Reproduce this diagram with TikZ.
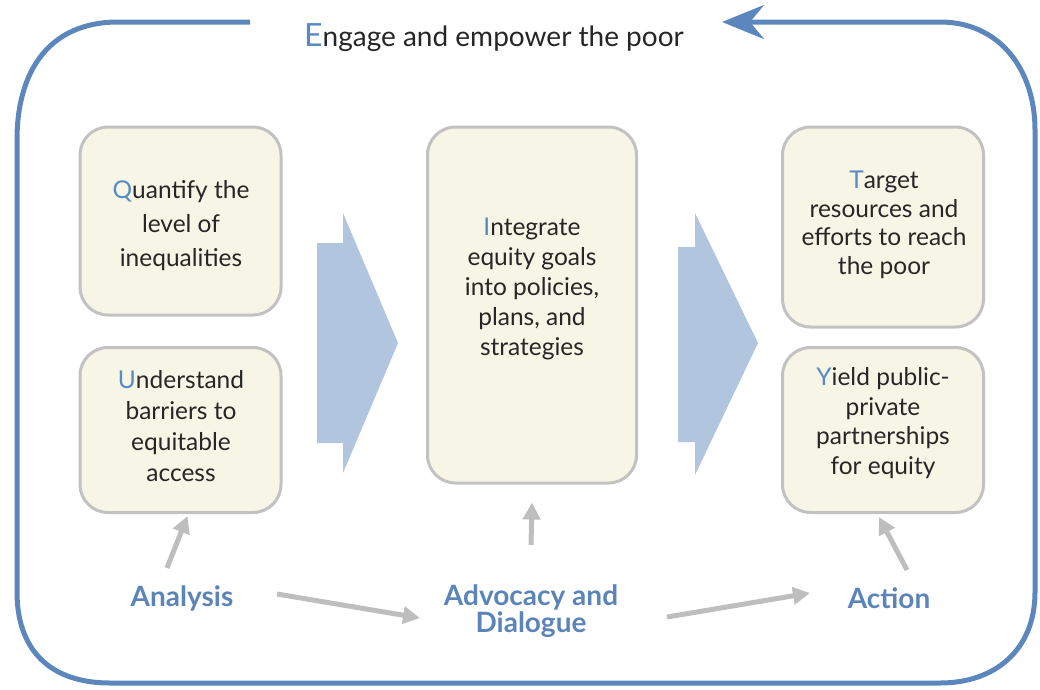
\documentclass[tikz,border=0pt]{standalone}
\usepackage{fontspec}
\setmainfont{Lato}
\usetikzlibrary{arrows.meta,calc}
\definecolor{loopblue}{HTML}{5B87BC}
\definecolor{chevblue}{HTML}{B1C5DF}
\definecolor{boxfill}{HTML}{F7F5E5}
\definecolor{boxline}{HTML}{C2C2C2}
\definecolor{garrowc}{HTML}{BEBEBE}
\definecolor{initblue}{HTML}{5A8AC6}
\definecolor{lblblue}{HTML}{5B84B9}
\newcommand{\ini}[1]{{\color{initblue}#1}}
\begin{document}
\begin{tikzpicture}[x=1pt,y=-1pt,
  box/.style={draw=boxline,line width=3pt,fill=boxfill,rounded corners=28pt,inner sep=0pt},
  boxtxt/.style={align=center,text=black!85,font=\fontsize{24.5}{31}\selectfont,inner sep=0pt},
  lbl/.style={align=center,text=lblblue,font=\bfseries\fontsize{28}{27}\selectfont,inner sep=0pt},
  chev/.style={fill=chevblue,draw=none},
  garrow/.style={draw=garrowc,line width=5pt,-{Triangle[length=17pt,width=17pt]}},
  loopline/.style={draw=loopblue,line width=5pt}]
\useasboundingbox (0,0) rectangle (1040,689);

% outer loop
\draw[loopline,-{Stealth[length=42pt,width=34pt,inset=14pt]}]
  (250,22) -- (118,22) .. controls (50,22) and (17,70) .. (17,140)
  -- (17,592) .. controls (17,650) and (50,683) .. (110,683)
  -- (940,683) .. controls (995,683) and (1035,650) .. (1035,592)
  -- (1035,130) .. controls (1035,70) and (1000,22) .. (940,22)
  -- (722,22);
\node[inner sep=0pt,font=\fontsize{28}{30}\selectfont,text=black!85] (eng) at (494,38)
  {\ini{\fontsize{32}{30}\selectfont E}ngage and empower the poor};

% chevrons
\fill[chev] (317,243) -- (343,243) -- (343,213) -- (398,343) -- (343,473) -- (343,443) -- (317,443) -- cycle;
\fill[chev] (678,247) -- (695,247) -- (695,213) -- (758,343) -- (695,475) -- (695,442) -- (678,442) -- cycle;

% boxes
\node[box,minimum width=201pt,minimum height=188pt] (qbox) at (180.5,221) {};
\node[box,minimum width=201pt,minimum height=165pt] (ubox) at (180.5,430) {};
\node[box,minimum width=209pt,minimum height=356pt] (ibox) at (532,305) {};
\node[box,minimum width=201pt,minimum height=200pt] (tbox) at (883,227) {};
\node[box,minimum width=201pt,minimum height=165pt] (ybox) at (883,430) {};

\node[boxtxt,font=\fontsize{24.5}{34}\selectfont] (qtxt) at (181,226) {\ini{Q}uantify the\\level of\\inequalities};
\node[boxtxt] (utxt) at (181,426) {\ini{U}nderstand\\barriers to\\equitable\\access};
\node[boxtxt,font=\fontsize{24.5}{30}\selectfont] (itxt) at (532,289) {\ini{I}ntegrate\\equity goals\\into policies,\\plans, and\\strategies};
\node[boxtxt,font=\fontsize{24.5}{28.5}\selectfont] (ttxt) at (884,225) {\ini{T}arget\\resources and\\efforts to reach\\the poor};
\node[boxtxt,font=\fontsize{24.5}{29.5}\selectfont] (ytxt) at (883,423) {\ini{Y}ield public-\\private\\partnerships\\for equity};

% bottom labels
\node[lbl] (ana) at (182,598) {Analysis};
\node[lbl] (adv) at (531,611) {Advocacy and\\Dialogue};
\node[lbl] (act) at (889,598) {Action};

% gray arrows
\draw[garrow] ($(ana)+(-15,-30)$) -- ($(ubox.south)+(7,2)$);
\draw[garrow] ($(adv)+(0,-66)$) -- ($(ibox.south)+(0,18)$);
\draw[garrow] ($(act)+(18,-28)$) -- ($(ybox.south)+(-4,3)$);
\draw[garrow] ($(ana)+(95,-4)$) -- ($(adv)+(-111,7)$);
\draw[garrow] ($(adv)+(136,6)$) -- ($(act)+(-79,-5)$);
\end{tikzpicture}
\end{document}
